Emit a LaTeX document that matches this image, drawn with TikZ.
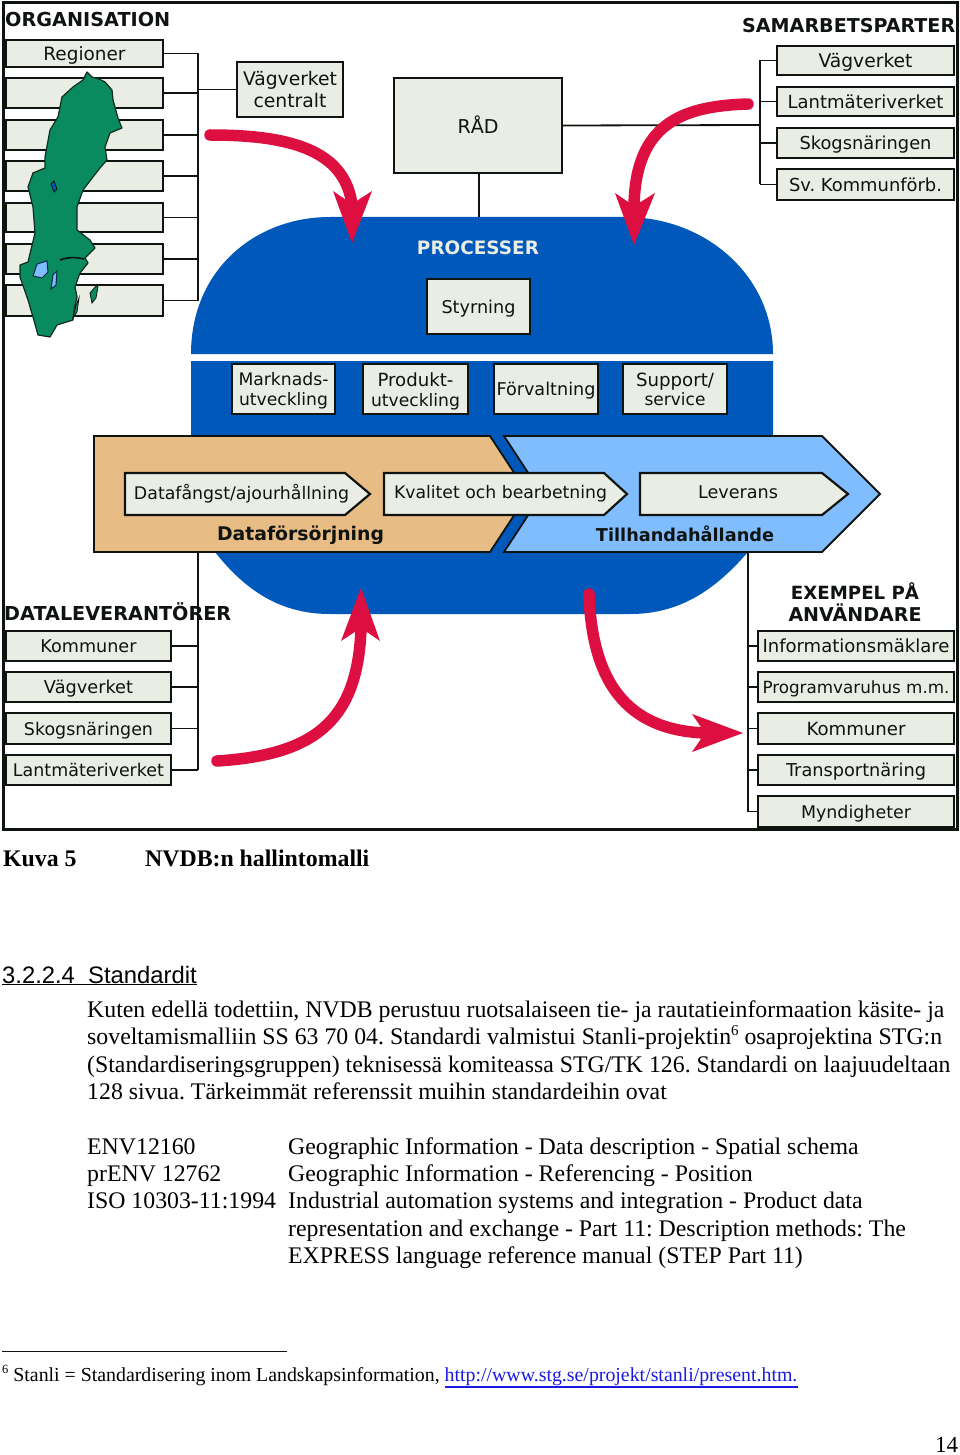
\documentclass[tikz,border=0pt]{standalone}
\usepackage{fontspec}
\setmainfont{Liberation Serif}
\newfontfamily\dia{DejaVu Sans}
\newfontfamily\arl{Liberation Sans}
\usepackage{graphicx}
\definecolor{boxfill}{HTML}{E9EDE4}
\definecolor{ink}{HTML}{101410}
\definecolor{nvblue}{HTML}{0058BB}
\definecolor{skyb}{HTML}{80BDFF}
\definecolor{tan}{HTML}{E8BC85}
\definecolor{mapg}{HTML}{0A8A5F}
\definecolor{redar}{HTML}{DC0F40}
\definecolor{linkb}{HTML}{1A1AE0}
\newcommand{\lb}[2]{\raisebox{-2.5pt}[\height][\depth]{\resizebox{#1pt}{!}{\dia\strut #2}}}
\newcommand{\hd}[2]{\resizebox{#1pt}{!}{\dia\bfseries #2}}
\newcommand{\bx}[6]{%
  \pgfmathsetmacro{\bw}{#4-#2}\pgfmathsetmacro{\bh}{#5-#3}%
  \pgfmathsetmacro{\bcx}{(#2+#4)/2}\pgfmathsetmacro{\bcy}{(#3+#5)/2}%
  \node[infobox,minimum width=\bw pt,minimum height=\bh pt] (#1) at (\bcx,\bcy) {#6};}
\tikzset{
  infobox/.style={draw=ink,fill=boxfill,line width=2.4pt,inner sep=0pt,align=center,text=ink,outer sep=0pt},
  wire/.style={draw=ink,line width=1.8pt},
  chev/.style={draw=ink,fill=boxfill,line width=2.2pt,line join=miter},
  bigchev/.style={draw=ink,line width=1.8pt},
  redshaft/.style={draw=redar,line width=11.5pt,line cap=round},
  redhead/.style={fill=redar,draw=none},
  bodytxt/.style={anchor=base west,inner sep=0pt,font=\fontsize{23.8}{27}\selectfont},
  lbl/.style={inner sep=0pt,text=ink,align=center}
}
\begin{document}
\frenchspacing
\begin{tikzpicture}[x=1pt,y=-1pt]
\useasboundingbox (0,0) rectangle (960,1455);
\fill[white] (0,0) rectangle (960,1455);

% blue process shape
\fill[nvblue] (191,354) .. controls (191,270) and (255,217) .. (330,217) -- (625,217)
   .. controls (705,217) and (773,275) .. (773,354) -- cycle;
\fill[nvblue] (191,361) -- (773,361) -- (773,436) -- (773,552) -- (748,552)
   .. controls (715,590) and (680,614) .. (630,614) -- (330,614)
   .. controls (280,614) and (245,590) .. (215,552) -- (191,552) -- cycle;
\fill[white] (760,436) rectangle (790,552);
\fill[white] (170,436) rectangle (191,552);

% frame
\draw[draw=ink,line width=3pt] (3,3) rectangle (957,829);

% upper left group
\coordinate (orgbus) at (198,55);
\bx{reg1}{6}{40}{163}{67}{\lb{82}{Regioner}}
\bx{reg2}{6}{78}{163}{108}{}
\bx{reg3}{6}{120}{163}{150}{}
\bx{reg4}{6}{161}{163}{191}{}
\bx{reg5}{6}{203}{163}{232}{}
\bx{reg6}{6}{244}{163}{274}{}
\bx{reg7}{6}{285}{163}{316}{}
\foreach \n in {1,...,7} {\draw[wire] (reg\n.east) -- (orgbus |- reg\n.east);}
\draw[wire] (orgbus |- reg1.east) -- (orgbus |- reg7.east);
\bx{vvc}{237}{62}{343}{117}{\lb{94}{Vägverket}\\[-2pt]\lb{73}{centralt}}
\draw[wire] (vvc.west) -- (orgbus |- vvc.west);
\node[lbl,anchor=west] (orgh) at (5,20) {\hd{165}{ORGANISATION}};

% map of Sweden
\draw[fill=mapg,draw=ink!80!mapg,line width=1.2pt,line join=round]
 (87,72) -- (92,77) -- (99,79) -- (105,82) -- (112,90) -- (113,100) -- (115,107) -- (118,118) -- (122,128)
 -- (110,133) -- (105,147) -- (107,160) -- (100,168) -- (93,177) -- (83,190) -- (77,207) -- (77,230)
 -- (90,240) -- (95,248) -- (85,258) -- (88,263) -- (80,273) -- (75,287) -- (77,297) -- (74,310) -- (73,320)
 -- (57,325) -- (50,337) -- (38,335) -- (33,317) -- (28,300) -- (20,277) -- (20,265) -- (28,262)
 -- (35,233) -- (33,207) -- (28,187) -- (33,173) -- (45,168) -- (45,157) -- (50,130) -- (58,117)
 -- (62,97) -- (73,87) -- (83,80) -- cycle;
\draw[fill=skyb,draw=ink!70!nvblue,line width=1pt] (33,276) -- (37,264) -- (47,261) -- (48,272) -- (42,278) -- cycle;
\draw[fill=skyb,draw=ink!70!nvblue,line width=1pt] (51,289) -- (53,275) -- (57,271) -- (56,285) -- cycle;
\draw[fill=nvblue,draw=ink,line width=.8pt] (51,184) -- (54,181) -- (57,189) -- (54,192) -- cycle;
\draw[fill=mapg,draw=ink,line width=.8pt] (90,293) -- (96,286) -- (98,287) -- (96,298) -- (92,303) -- cycle;
\draw[fill=mapg,draw=ink,line width=.8pt] (73,318) -- (76,305) -- (79,298) -- (77,312) -- cycle;
\draw[draw=ink,line width=1.6pt] (60,260) .. controls (68,257) and (75,257) .. (84,259);

% RÅD
\bx{rad}{394}{78}{562}{173}{\lb{41}{RÅD}}
\coordinate (parbus) at (760,125);
\draw[wire] (rad.east) -- (parbus);
\coordinate (proctop) at (479,217);
\draw[wire] (rad.south -| proctop) -- (proctop);

% upper right group
\node[lbl,anchor=west] (parh) at (742,26) {\hd{213}{SAMARBETSPARTER}};
\bx{par1}{777}{46}{954}{75}{\lb{94}{Vägverket}}
\bx{par2}{777}{87}{954}{116}{\lb{156}{Lantmäteriverket}}
\bx{par3}{777}{128}{954}{158}{\lb{132}{Skogsnäringen}}
\bx{par4}{777}{169}{954}{200}{\lb{153}{Sv. Kommunförb.}}
\foreach \n in {1,...,4} {\draw[wire] (par\n.west) -- (parbus |- par\n.west);}
\draw[wire] (parbus |- par1.west) -- (parbus |- par4.west);

% process contents
\node[lbl,text=boxfill] (proch) at (478,248) {\hd{122}{PROCESSER}};
\bx{sty}{427}{279}{530}{334}{\lb{74}{Styrning}}
\bx{p1}{232}{364}{335}{414}{\lb{90}{Marknads-}\\[-2pt]\lb{89}{utveckling}}
\bx{p2}{363}{364}{468}{414}{\lb{76}{Produkt-}\\[-2pt]\lb{89}{utveckling}}
\bx{p3}{494}{364}{598}{414}{\lb{99}{Förvaltning}}
\bx{p4}{623}{364}{727}{414}{\lb{78}{Support/}\\[-2pt]\lb{61}{service}}

% big chevrons
\draw[bigchev,fill=tan] (94,436) -- (490,436) -- (528,494) -- (490,552) -- (94,552) -- cycle;
\draw[bigchev,fill=skyb] (504,436) -- (822,436) -- (880,494) -- (822,552) -- (504,552) -- (542,494) -- cycle;
\draw[chev] (125,473) -- (345,473) -- (370,494) -- (345,515) -- (125,515) -- cycle;
\draw[chev] (384,473) -- (604,473) -- (627,494) -- (604,515) -- (384,515) -- cycle;
\draw[chev] (640,473) -- (822,473) -- (848,494) -- (822,515) -- (640,515) -- cycle;
\node[lbl] (dfa) at (241.5,492) {\lb{215}{Datafångst/ajourhållning}};
\node[lbl] (kvb) at (500.5,492) {\lb{213}{Kvalitet och bearbetning}};
\node[lbl] (lev) at (738,492) {\lb{80}{Leverans}};
\node[lbl] (dfs) at (300.5,535) {\hd{167}{Dataförsörjning}};
\node[lbl] (tha) at (685,533.5) {\hd{178}{Tillhandahållande}};
\coordinate (orgchev) at (198,552);
\coordinate (tilchev) at (748,552);

% lower left group
\bx{dl1}{6}{631}{171}{661}{\lb{96}{Kommuner}}
\bx{dl2}{6}{672}{171}{702}{\lb{89}{Vägverket}}
\bx{dl3}{6}{713}{171}{744}{\lb{129}{Skogsnäringen}}
\bx{dl4}{6}{755}{171}{785}{\lb{151}{Lantmäteriverket}}
\foreach \n in {1,...,4} {\draw[wire] (dl\n.east) -- (orgchev |- dl\n.east);}
\draw[wire] (orgchev) -- (orgchev |- dl4.east);
\node[lbl,anchor=west] (dlh) at (4,612) {\hd{227}{DATALEVERANTÖRER}};

% lower right group
\bx{an1}{758}{631}{954}{661}{\lb{187}{Informationsmäklare}}
\bx{an2}{758}{672}{954}{702}{\lb{187}{Programvaruhus m.m.}}
\bx{an3}{758}{713}{954}{744}{\lb{99}{Kommuner}}
\bx{an4}{758}{755}{954}{785}{\lb{140}{Transportnäring}}
\bx{an5}{758}{796}{954}{827}{\lb{110}{Myndigheter}}
\foreach \n in {1,...,5} {\draw[wire] (an\n.west) -- (tilchev |- an\n.west);}
\draw[wire] (tilchev) -- (tilchev |- an5.west);
\node[lbl] (anh) at (855,602) {\hd{128}{EXEMPEL PÅ}\\[3pt]\hd{133}{ANVÄNDARE}};

% red arrows
\coordinate (ra) at (210,135); \coordinate (rb) at (352,205);
\draw[redshaft] (ra) .. controls (290,135) and (345,150) .. (rb);
\fill[redhead] (352,243) -- (333,191) -- (352,204) -- (372,191) -- cycle;
\coordinate (rc) at (748,104); \coordinate (rd) at (634,205);
\draw[redshaft] (rc) .. controls (680,106) and (636,125) .. (rd);
\fill[redhead] (634,245) -- (615,193) -- (634,206) -- (655,193) -- cycle;
\coordinate (re) at (217,761); \coordinate (rf) at (361,628);
\draw[redshaft] (re) .. controls (310,755) and (358,725) .. (rf);
\fill[redhead] (361,588) -- (341,641) -- (361,628) -- (380,641) -- cycle;
\coordinate (rg) at (589,594); \coordinate (rh) at (705,733);
\draw[redshaft] (rg) .. controls (592,680) and (625,730) .. (rh);
\fill[redhead] (743,733) -- (692,714) -- (705,733) -- (692,752) -- cycle;

% caption
\node[bodytxt,font=\fontsize{23.8}{27}\selectfont\bfseries] (cap1) at (3,866) {Kuva 5};
\node[bodytxt,font=\fontsize{23.8}{27}\selectfont\bfseries] (cap2) at (145,866) {NVDB:n hallintomalli};
\node[bodytxt,font=\fontsize{23.8}{27}\selectfont\arl] (sec) at (2,983) {\underline{3.2.2.4\ \ Standardit}};

\node[bodytxt] (l1) at (87,1017) {Kuten edellä todettiin, NVDB perustuu ruotsalaiseen tie- ja rautatieinformaation käsite- ja};
\node[bodytxt] (l2) at (87,1044) {soveltamismalliin SS 63 70 04. Standardi valmistui Stanli-projektin\raisebox{9pt}{\fontsize{15}{15}\selectfont 6} osaprojektina STG:n};
\node[bodytxt] (l3) at (87,1072) {(Standardiseringsgruppen) teknisessä komiteassa STG/TK 126. Standardi on laajuudeltaan};
\node[bodytxt] (l4) at (87,1099) {128 sivua. Tärkeimmät referenssit muihin standardeihin ovat};

\node[bodytxt] (t1a) at (87,1154) {ENV12160};
\node[bodytxt] (t1b) at (288,1154) {Geographic Information - Data description - Spatial schema};
\node[bodytxt] (t2a) at (87,1181) {prENV 12762};
\node[bodytxt] (t2b) at (288,1181) {Geographic Information - Referencing - Position};
\node[bodytxt] (t3a) at (87,1208) {ISO 10303-11:1994};
\node[bodytxt] (t3b) at (288,1208) {Industrial automation systems and integration - Product data};
\node[bodytxt] (t4b) at (288,1236) {representation and exchange - Part 11: Description methods: The};
\node[bodytxt] (t5b) at (288,1263) {EXPRESS language reference manual (STEP Part 11)};

\draw[draw=ink,line width=1pt] (2,1351) -- (287,1351);
\node[bodytxt,font=\fontsize{19.85}{24}\selectfont] (fn) at (2,1381) {\raisebox{7.5pt}{\fontsize{12.5}{12.5}\selectfont 6} Stanli = Standardisering inom Landskapsinformation, \textcolor{linkb}{http://www.stg.se/projekt/stanli/present.htm.}};
\draw[draw=linkb,line width=2pt] (445,1386.5) -- (798,1386.5);
\node[bodytxt,font=\fontsize{23}{27}\selectfont] (pg) at (935,1452) {14};
\end{tikzpicture}
\end{document}
